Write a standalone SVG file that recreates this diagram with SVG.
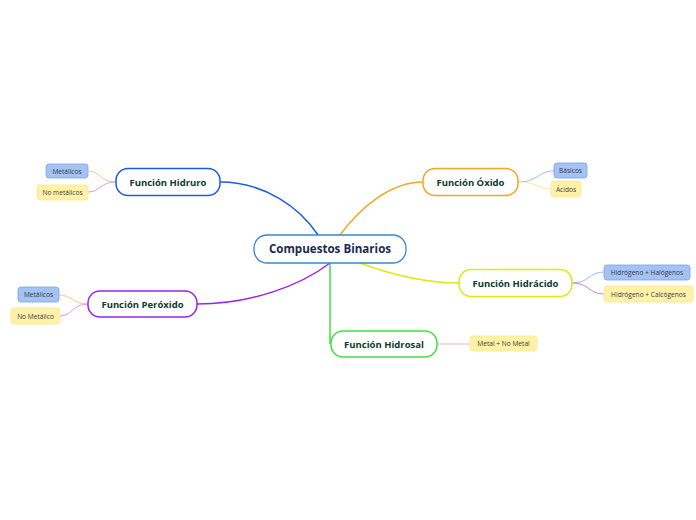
<svg xmlns="http://www.w3.org/2000/svg" width="696" height="520" viewBox="0 0 696 520">
<style>
.bg{fill:#ffffff}
.main{fill:#ffffff;stroke:#3b86cc;stroke-width:1.3}
.br{fill:#ffffff;stroke-width:1.5}
.mt{font-family:"Open Sans","Noto Sans","Liberation Sans",sans-serif;font-size:11.6px;font-weight:bold;fill:#1b2a52;text-anchor:middle}
.bt{font-family:"Open Sans","Noto Sans","Liberation Sans",sans-serif;font-size:9.5px;font-weight:bold;fill:#0e3b2e;text-anchor:middle}
.lb{fill:#a4c2f4;stroke:#7ba3ea;stroke-width:0.8}
.ly{fill:#fff2a8;stroke:#fbe98a;stroke-width:0.8}
.lt{font-family:"Open Sans","Noto Sans","Liberation Sans",sans-serif;font-size:6.6px;fill:#3a3a3a;text-anchor:middle}
.c{fill:none;stroke-width:1.5}
.cl{fill:none;stroke-width:0.9}
</style>
<rect class="bg" x="0" y="0" width="696" height="520"/>
<g id="connectors">
<path class="c" stroke="#1a5ce0" d="M318,235 C300,208 265,182 220,182"/>
<path class="c" stroke="#f5a623" d="M340,235 C360,208 390,182 423,182"/>
<path class="c" stroke="#d4ee10" d="M360,263 C395,276 425,283 459,283"/>
<path class="c" stroke="#3ee03e" d="M330,263 L330,344"/>
<path class="c" stroke="#9a22ee" d="M330,263 C300,286 250,304 197,304"/>
<path class="cl" stroke="#f7c07a" d="M116,182 C100,182 100,171 88,171"/>
<path class="cl" stroke="#d98ce8" d="M116,182 C100,182 100,192 88,192"/>
<path class="cl" stroke="#f7c07a" d="M88,304 C72,304 72,295 59,295"/>
<path class="cl" stroke="#d98ce8" d="M88,304 C72,304 72,316 60,316"/>
<path class="cl" stroke="#8ab4f0" d="M518,182 C538,182 538,171 554,171"/>
<path class="cl" stroke="#f8e690" d="M518,182 C538,182 538,189 551,189"/>
<path class="cl" stroke="#8ab4f0" d="M572,283 C590,283 588,272 604,272"/>
<path class="cl" stroke="#c070f0" d="M572,283 C590,283 588,294 604,294"/>
<path class="cl" stroke="#d8a8f0" d="M437,344 L470,344"/>
</g>
<g id="central">
<rect class="main" x="254" y="235" width="152" height="28" rx="13"/>
<text class="mt" x="330" y="253.3">Compuestos Binarios</text>
</g>
<g id="hidruro">
<rect class="br" stroke="#1a5ce0" x="116" y="168.5" width="104" height="27" rx="12"/>
<text class="bt" x="168" y="185.5">Función Hidruro</text>
</g>
<g id="oxido">
<rect class="br" stroke="#f5a623" x="423" y="168.5" width="95" height="27" rx="12"/>
<text class="bt" x="470.5" y="185.5">Función Óxido</text>
</g>
<g id="hidracido">
<rect class="br" stroke="#d4ee10" x="459" y="269.5" width="113" height="27" rx="12"/>
<text class="bt" x="515.5" y="286.5">Función Hidrácido</text>
</g>
<g id="hidrosal">
<rect class="br" stroke="#3ee03e" x="331" y="331" width="106" height="26" rx="12"/>
<text class="bt" x="384" y="347.5">Función Hidrosal</text>
</g>
<g id="peroxido">
<rect class="br" stroke="#9a22ee" x="88" y="291" width="109" height="26" rx="12"/>
<text class="bt" x="142.5" y="307.5">Función Peróxido</text>
</g>
<g id="hidruro-metalicos">
<rect class="lb" x="46" y="164" width="42" height="14" rx="3"/>
<text class="lt" x="67" y="173.5">Metálicos</text>
</g>
<g id="hidruro-nometalicos">
<rect class="ly" x="37" y="185" width="51" height="15" rx="3"/>
<text class="lt" x="62.5" y="195">No metálicos</text>
</g>
<g id="peroxido-metalicos">
<rect class="lb" x="18" y="287" width="41" height="15" rx="3"/>
<text class="lt" x="38.5" y="297">Metálicos</text>
</g>
<g id="peroxido-nometalico">
<rect class="ly" x="11" y="308" width="49" height="16" rx="3"/>
<text class="lt" x="35.5" y="318.5">No Metálico</text>
</g>
<g id="oxido-basicos">
<rect class="lb" x="554" y="163" width="33" height="15" rx="3"/>
<text class="lt" x="570.5" y="173">Básicos</text>
</g>
<g id="oxido-acidos">
<rect class="ly" x="551" y="181" width="30" height="16" rx="3"/>
<text class="lt" x="566" y="191.5">Ácidos</text>
</g>
<g id="hidracido-halogenos">
<rect class="lb" x="604" y="265" width="86" height="15" rx="3"/>
<text class="lt" x="647" y="275">Hidrógeno + Halógenos</text>
</g>
<g id="hidracido-calcogenos">
<rect class="ly" x="604" y="286" width="89" height="16" rx="3"/>
<text class="lt" x="648.5" y="296.5">Hidrógeno + Calcógenos</text>
</g>
<g id="hidrosal-metal">
<rect class="ly" x="470" y="336" width="67" height="15" rx="3"/>
<text class="lt" x="503.5" y="346">Metal + No Metal</text>
</g>
</svg>
